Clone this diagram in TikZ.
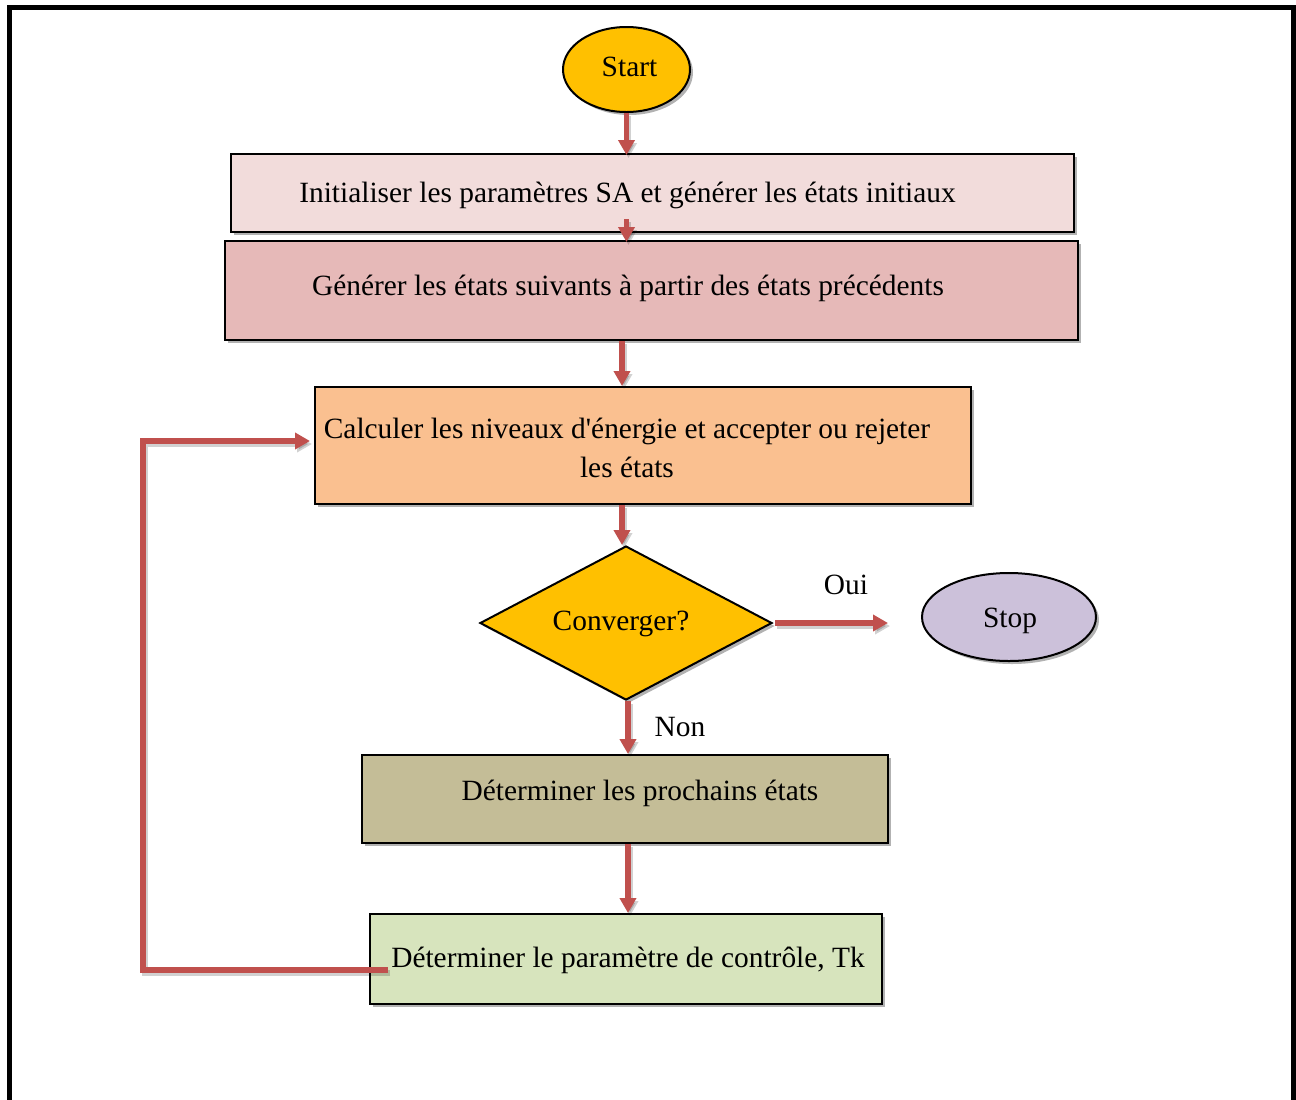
\documentclass[tikz,border=0pt]{standalone}
\usepackage{fontspec}
\setmainfont{Liberation Serif}
\usetikzlibrary{shapes.geometric,shadows,arrows.meta,calc}
\definecolor{flowred}{HTML}{C0504D}
\definecolor{gold}{HTML}{FFC000}
\definecolor{paleRose}{HTML}{F2DCDB}
\definecolor{dustyRose}{HTML}{E6B9B8}
\definecolor{peach}{HTML}{FAC090}
\definecolor{khaki}{HTML}{C4BD97}
\definecolor{paleGreen}{HTML}{D7E4BD}
\definecolor{lilac}{HTML}{CCC1DA}
\begin{document}
\begin{tikzpicture}[x=0.5pt,y=-0.5pt,
  every node/.style={font=\fontsize{14.7}{19.5}\selectfont},
  shade/.style={drop shadow={shadow xshift=1.5pt,shadow yshift=-1.5pt,opacity=0.3,fill=black}},
  box/.style={draw=black,line width=1pt,inner sep=0pt,shade},
  txt/.style={inner sep=0pt,anchor=base,align=center},
  flow/.style={draw=flowred,line width=2.6pt,-{Triangle[length=7.5pt,width=8pt]},
    preaction={draw=black,opacity=0.18,line width=2.6pt,transform canvas={shift={(1pt,-1.5pt)}}}},
]
\clip (0,0) rectangle (1296,1099);
\fill[white] (0,0) rectangle (1296,1099);
% page frame, open at the bottom
\draw[line width=2.5pt] (9.5,1110) -- (9.5,7.5) -- (1293.5,7.5) -- (1293.5,1110);

% shapes
\node[box,ellipse,fill=gold,minimum width=63.5pt,minimum height=42.5pt] (start) at (626.5,69.5) {};
\node[box,fill=paleRose,minimum width=421.5pt,minimum height=39pt] (init) at (652.5,193) {};
\node[box,fill=dustyRose,minimum width=426.5pt,minimum height=49.5pt] (gen) at (651.5,290.5) {};
\node[box,fill=peach,minimum width=328pt,minimum height=58.5pt] (calc) at (643,445.5) {};
\node[box,diamond,fill=gold,aspect=1.9,minimum width=146pt,minimum height=77pt] (conv) at (626,623) {};
\node[box,ellipse,fill=lilac,minimum width=87pt,minimum height=44pt] (stop) at (1009,617) {};
\node[box,fill=khaki,minimum width=263pt,minimum height=44pt] (next) at (625,799) {};
\node[box,fill=paleGreen,minimum width=256pt,minimum height=45pt] (ctrl) at (626,959) {};

% texts
\node[txt] (tStart) at (629.5,76) {Start};
\node[txt] (tInit) at (627.5,202) {Initialiser les paramètres SA et générer les états initiaux};
\node[txt] (tGen) at (628,295) {Générer les états suivants à partir des états précédents};
\node[txt] (tCalc) at (627,477) {Calculer les niveaux d\textquotesingle énergie et accepter ou rejeter\\les états};
\node[txt] (tConv) at (621,630) {Converger?};
\node[txt] (tStop) at (1010,627) {Stop};
\node[txt] (tOui) at (846,594) {Oui};
\node[txt] (tNon) at (680,736) {Non};
\node[txt] (tNext) at (640,800) {Déterminer les prochains états};
\node[txt] (tCtrl) at (628,967) {Déterminer le paramètre de contrôle, Tk};

% helper coordinates for the connector columns
\coordinate (colA) at (622,0);
\coordinate (colB) at (628,0);
\coordinate (loopX) at (143,0);
\coordinate (loopTop) at (0,441);
\coordinate (loopBot) at (0,970);
\coordinate (fbStart) at (388,970);

% connectors
\draw[flow] (start.south) -- ([yshift=-1pt]start.south |- init.north);
\draw[flow] ([yshift=7pt]init.south -| start) -- ([yshift=-1pt]gen.north -| start);
\draw[flow] (gen.south -| colA) -- (calc.north -| colA);
\draw[flow] (calc.south -| colA) -- (conv.north -| colA);
\draw[flow,shorten >=16.5pt] ([xshift=1pt]conv.east) -- (conv.east -| stop.west);
\draw[flow] (conv.south -| colB) -- (next.north -| colB);
\draw[flow] (next.south -| colB) -- (ctrl.north -| colB);
\draw[flow,shorten >=2pt] (fbStart) -- (loopX |- loopBot) -- (loopX |- loopTop) -- (calc.west |- loopTop);
\end{tikzpicture}
\end{document}
